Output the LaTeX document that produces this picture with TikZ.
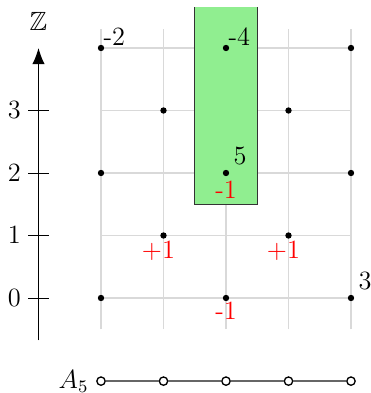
\documentclass[tikz,border=0pt]{standalone}
\usepackage{amssymb}
\usetikzlibrary{arrows.meta}
\definecolor{lgreen}{RGB}{144,238,144}
\tikzset{
  dot/.style={circle,fill=black,inner sep=0pt,minimum size=2.9pt},
  odot/.style={circle,draw=black,fill=white,inner sep=0pt,minimum size=3.8pt,line width=0.6pt},
  tag/.style={anchor=south west,inner sep=1pt},
  redtag/.style={red,below},
  gridline/.style={gray!30,line width=0.5pt}
}
\begin{document}
\begin{tikzpicture}[font=\large,every node/.append style={inner sep=3.3pt}]
\useasboundingbox (-1.616,-1.52) rectangle (4.304,4.768);
% grid
\draw[gridline] (0,-0.5) grid (4,4.3);
% green band
\fill[lgreen] (1.5,1.5) rectangle (2.5,4.65);
\draw[black!80,line width=0.5pt] (1.5,4.65) -- (1.5,1.5) -- (2.5,1.5) -- (2.5,4.65);
% axis
\coordinate (ab) at (-1,-0.68);
\coordinate (at) at (-1,4);
\draw[-{Latex[length=2.6mm,width=2mm]},line width=0.5pt] (ab) -- (at);
\node (zl) at (-1,4.42) {$\mathbb{Z}$};
\foreach \y in {0,1,2,3}{
  \coordinate (tl\y) at (-1.16,\y);
  \coordinate (tr\y) at (-0.84,\y);
  \draw[line width=0.4pt] (tl\y) -- (tr\y);
  \node[left] (ty\y) at (tl\y) {$\y$};
}
% dots
\foreach \p/\x/\y in {a/0/0,b/2/0,c/4/0,d/1/1,e/3/1,f/0/2,g/2/2,h/4/2,i/1/3,j/3/3,k/0/4,l/2/4,m/4/4}{
  \node[dot] (\p) at (\x,\y) {};
}
% labels
\node[tag] (lk) at (k.center) {-2};
\node[tag] (ll) at (l.center) {-4};
\node[above right] (lg) at (g.center) {5};
\node[above right] (lc) at (c.center) {3};
\node[redtag] (rg) at (g.center) {-1};
\node[redtag,yshift=1.5pt] (rb) at (b.center) {-1};
\node[redtag,xshift=-2.3pt,yshift=1pt] (rd) at (d.center) {+1};
\node[redtag,xshift=-2.3pt,yshift=1pt] (re) at (e.center) {+1};
% A5
\foreach \i in {0,...,4}{
  \node[odot] (n\i) at (\i,-1.33) {};
}
\foreach \i/\j in {0/1,1/2,2/3,3/4}{
  \draw[black!60,line width=0.6pt] (n\i) -- (n\j);
}
\node[left] (al) at (n0.west) {$A_5$};
\end{tikzpicture}
\end{document}
